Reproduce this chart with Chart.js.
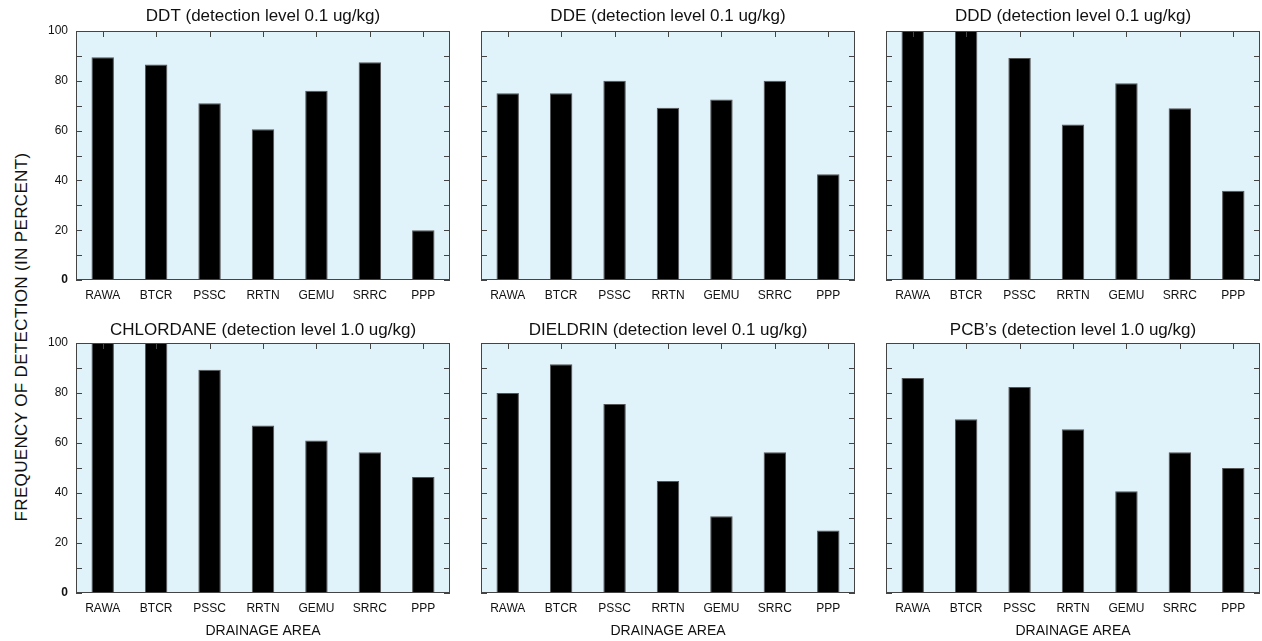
<!DOCTYPE html>
<html>
<head>
<meta charset="utf-8">
<script src="https://cdn.jsdelivr.net/npm/chart.js@4.4.1/dist/chart.umd.min.js"></script>
<style>
 body { margin: 0; background: #fff; width: 1262px; height: 641px; position: relative; overflow: hidden; font-family: "Liberation Sans", Arial, sans-serif; }
 .panel { position: absolute; }
 #ytitle { position: absolute; left: 22px; top: 337px; transform: translate(-50%, -50%) rotate(-90deg); white-space: nowrap; font-size: 17px; letter-spacing: 0.35px; color: #111; }
</style>
</head>
<body>
<div id="ytitle">FREQUENCY OF DETECTION (IN PERCENT)</div>
<div class="panel" style="left:40px;top:0px;width:412px;height:300px"><canvas id="c0"></canvas></div>
<div class="panel" style="left:445px;top:0px;width:412px;height:300px"><canvas id="c1"></canvas></div>
<div class="panel" style="left:850px;top:0px;width:412px;height:300px"><canvas id="c2"></canvas></div>
<div class="panel" style="left:40px;top:312px;width:412px;height:329px"><canvas id="c3"></canvas></div>
<div class="panel" style="left:445px;top:312px;width:412px;height:329px"><canvas id="c4"></canvas></div>
<div class="panel" style="left:850px;top:312px;width:412px;height:329px"><canvas id="c5"></canvas></div>
<script>
// datos (porcentaje de deteccion)
const areas = ['RAWA', 'BTCR', 'PSSC', 'RRTN', 'GEMU', 'SRRC', 'PPP'];
const titles = [
 'DDT (detection level 0.1 ug/kg)',
 'DDE (detection level 0.1 ug/kg)',
 'DDD (detection level 0.1 ug/kg)',
 'CHLORDANE (detection level 1.0 ug/kg)',
 'DIELDRIN (detection level 0.1 ug/kg)',
 'PCB\u2019s (detection level 1.0 ug/kg)'
];
const ddt = [89.5, 86.5, 71, 60.5, 76, 87.5, 20];
const dde = [75, 75, 80, 69.2, 72.5, 80, 42.5];
const ddd = [100, 100, 89.2, 62.5, 79, 69, 35.8];
const chlordane = [100, 100, 89.3, 67, 61, 56.3, 46.4];
const dieldrin = [80, 91.5, 75.6, 44.8, 30.7, 56.3, 25];
const pcbs = [86, 69.5, 82.4, 65.5, 40.7, 56.3, 50];
const yTicks = [0, 20, 40, 60, 80, 100];

const series = [ddt, dde, ddd, chlordane, dieldrin, pcbs];
const fontFam = '"Liberation Sans", Arial, sans-serif';

// fondo celeste, marco y marcas hacia adentro
const marco = {
 id: 'marco',
 beforeDraw(chart) {
  const a = chart.chartArea, ctx = chart.ctx;
  ctx.save();
  ctx.fillStyle = '#e0f2fa';
  ctx.fillRect(a.left, a.top, a.right - a.left, a.bottom - a.top);
  ctx.restore();
 },
 afterDraw(chart) {
  const a = chart.chartArea, ctx = chart.ctx;
  const y = chart.scales.y, x = chart.scales.x;
  ctx.save();
  ctx.strokeStyle = '#444';
  ctx.lineWidth = 1;
  ctx.strokeRect(a.left + 0.5, a.top + 0.5, a.right - a.left - 1, a.bottom - a.top - 1);
  ctx.beginPath();
  for (let v = 0; v <= 100; v += 10) {
   const py = Math.round(y.getPixelForValue(v)) + 0.5;
   ctx.moveTo(a.left, py); ctx.lineTo(a.left + 6, py);
   ctx.moveTo(a.right, py); ctx.lineTo(a.right - 6, py);
  }
  for (let i = 0; i < areas.length; i++) {
   const px = Math.round(x.getPixelForValue(i)) + 0.5;
   ctx.moveTo(px, a.top); ctx.lineTo(px, a.top + 6);
  }
  ctx.stroke();
  ctx.restore();
 }
};

series.forEach(function (vals, k) {
 const col = k % 3, fila = Math.floor(k / 3);
 const ctx = document.getElementById('c' + k).getContext('2d');
 new Chart(ctx, {
  type: 'bar',
  data: {
   labels: areas,
   datasets: [{
    data: vals,
    backgroundColor: '#000',
    borderColor: '#555',
    borderWidth: 1,
    barPercentage: 0.42,
    categoryPercentage: 1
   }]
  },
  options: {
   responsive: true,
   maintainAspectRatio: false,
   animation: false,
   events: [],
   layout: { padding: { left: 0, right: 2, top: 0, bottom: 0 } },
   plugins: {
    legend: { display: false },
    tooltip: { enabled: false },
    title: {
     display: true,
     fullSize: false,
     text: titles[k],
     color: '#111',
     font: { family: fontFam, size: 17, weight: 'normal' },
     padding: fila === 0 ? { top: 6.5, bottom: 4.1 } : { top: 8.5, bottom: 2.1 }
    }
   },
   scales: {
    x: {
     grid: { display: false, drawTicks: false },
     border: { display: false },
     ticks: { color: '#111', font: { family: fontFam, size: 12 }, padding: 8, maxRotation: 0, autoSkip: false },
     title: {
      display: fila === 1,
      text: 'DRAINAGE AREA',
      color: '#111',
      font: { family: fontFam, size: 14 },
      padding: { top: 0, bottom: 1.5 }
     },
     afterFit(s) { s.height = fila === 0 ? 20 : 48; }
    },
    y: {
     min: 0,
     max: 100,
     afterBuildTicks(s) { s.ticks = yTicks.map(v => ({ value: v })); },
     grid: { display: false, drawTicks: false },
     border: { display: false },
     ticks: {
      display: col === 0,
      color: '#111',
      padding: 8,
      font: c => ({ family: fontFam, size: 12, weight: c.tick && c.tick.value === 0 ? 'bold' : 'normal' })
     },
     afterFit(s) { s.width = 36; }
    }
   }
  },
  plugins: [marco]
 });
});
</script>
</body>
</html>
